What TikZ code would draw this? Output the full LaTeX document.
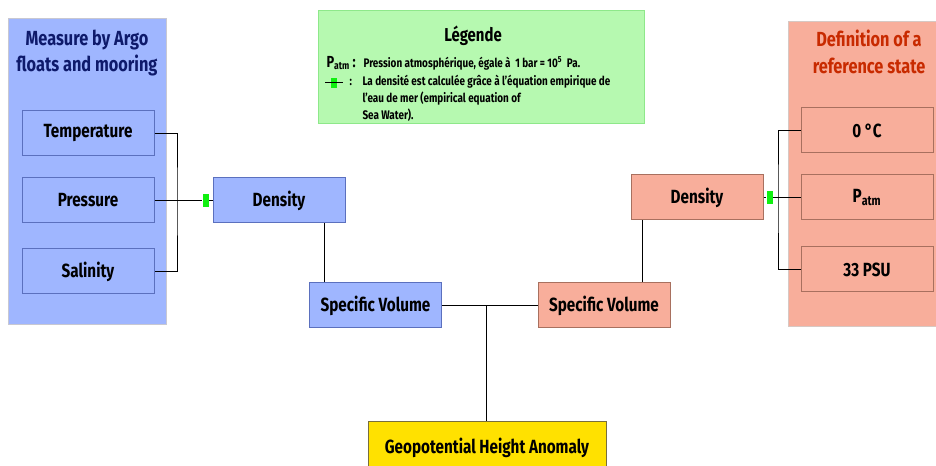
\documentclass[tikz,border=0pt]{standalone}
\usepackage{fontspec}
\setmainfont{Fira Sans}[FakeStretch=0.8]
\usetikzlibrary{positioning}

\definecolor{argoblue}{HTML}{9FB6FF}
\definecolor{argoedge}{HTML}{5B70BE}
\definecolor{argotitle}{HTML}{0E1A6B}
\definecolor{refsalmon}{HTML}{F8AE9B}
\definecolor{refedge}{HTML}{A8705F}
\definecolor{reftitle}{HTML}{C82A00}
\definecolor{legendgreen}{HTML}{B6F9B0}
\definecolor{legendedge}{HTML}{8EE88A}
\definecolor{markgreen}{HTML}{10F010}
\definecolor{geoyellow}{HTML}{FFE100}

\tikzset{every picture/.style={line width=0.75pt}}
\tikzset{
  varbox/.style={draw, rectangle, minimum width=99pt, minimum height=33.75pt, inner sep=0.75pt, font=\bfseries\fontsize{14.3}{16}\selectfont},
  bluebox/.style={varbox, fill=argoblue, draw=argoedge},
  salmonbox/.style={varbox, fill=refsalmon, draw=refedge},
  densmark/.style={draw=none, fill=markgreen, minimum width=4.5pt, minimum height=9.75pt, inner sep=0pt},
  paneltitle/.style={align=center, font=\bfseries\fontsize{15.3}{20}\selectfont},
  legtext/.style={inner sep=0.75pt, font=\bfseries\fontsize{9.3}{12.8}\selectfont},
}

\begin{document}
\begin{tikzpicture}[x=0.75pt,y=0.75pt,yscale=-1,xscale=1]
    \useasboundingbox (0,0) rectangle (936,466); %set diagram to the 936 x 466 frame

    %Shape: Rectangle [left panel]
    \draw [draw={rgb, 255:red, 200; green, 200; blue, 210 }, fill=argoblue] (8,19) rectangle (166,325) ;
    %Shape: Rectangle [right panel]
    \draw [draw={rgb, 255:red, 215; green, 200; blue, 195 }, fill=refsalmon] (788,22) rectangle (950,327) ;
    %Shape: Rectangle [legend]
    \draw [draw=legendedge, fill=legendgreen] (318,11) rectangle (644,124) ;

    % Text Node
    \node [paneltitle, text=argotitle] (argotitle) at (87,53) {Measure by Argo\\floats and mooring};
    % Text Node
    \node [paneltitle, text=reftitle] (reftitle) at (869,52) {Definition of a\\reference state};

    % Measured variables
    \node [bluebox] (temp) at (88,133.5) {Temperature};
    \node [bluebox] (pres) at (88,200.5) {Pressure};
    \node [bluebox] (sal) at (88,271.5) {Salinity};
    \node [bluebox] (bdens) at (279,200.5) {Density};
    \node [bluebox] (svb) at (375.5,305.5) {Specific Volume};

    % Reference state
    \node [salmonbox] (zero) at (867,130.5) {0 °C};
    \node [salmonbox] (patm) at (867,197.5) {P\textsubscript{atm}};
    \node [salmonbox] (psu) at (867,269.5) {33 PSU};
    \node [salmonbox] (rdens) at (697,197.5) {Density};
    \node [salmonbox] (svr) at (604,305.5) {Specific Volume};

    % Result
    \node [varbox, fill=geoyellow, draw={rgb, 255:red, 120; green, 110; blue, 60 }, minimum width=178.5pt, minimum height=39pt] (geo) at (487,448) {Geopotential Height Anomaly};

    % Density markers
    \node [densmark] (lmark) at (205.5,200.5) {};
    \node [densmark] (rmark) at (769.5,197.5) {};

    %Straight Lines [left bracket]
    \coordinate (lbr) at (177,200.5);
    \draw (temp.east) -| (lbr) |- (sal.east) ;
    \draw (pres.east) -- (lmark.west) ;
    \draw (lmark.east) -- (bdens.west) ;
    %Straight Lines [right bracket]
    \coordinate (rbr) at (778,197.5);
    \draw (zero.west) -| (rbr) |- (psu.west) ;
    \draw (rdens.east) -- (rmark.west) ;
    \draw (rmark.east) -- (patm.west) ;
    %Straight Lines [density to specific volume]
    \draw ([xshift=33.75pt]bdens.south) -- ([xshift=33.75pt]bdens.south |- svb.north) ;
    \draw ([xshift=-41.25pt]rdens.south) -- ([xshift=-41.25pt]rdens.south |- svr.north) ;
    %Straight Lines [specific volumes to anomaly]
    \draw (svb.east) -- (svr.west) ;
    \coordinate (jn) at (486,305.5);
    \draw (jn) -- (jn |- geo.north) ;

    % Text Node [legend]
    \node [font=\bfseries\fontsize{14}{15}\selectfont] (legtitle) at (473,36) {Légende};
    \node [anchor=west, inner sep=0.75pt, font=\bfseries\fontsize{12}{13}\selectfont] (legpatm) at (325,63) {P\textsubscript{atm}\,:};
    \node [legtext, anchor=west] (legpatmtxt) at (362,63) {Pression atmosphérique, égale à \ 1 bar = 10\textsuperscript{5} \ Pa.};
    \node [densmark, minimum width=4.5pt, minimum height=8pt] (legmark) at (334,83) {};
    \draw ([xshift=-4pt]legmark.west) -- ([xshift=4pt]legmark.east) ;
    \node [legtext, anchor=west] (legcolon) at (348,82) {:};
    \node [legtext, anchor=north west, align=left] (legmarktxt) at (361,74) {La densité est calculée grâce à l'équation empirique de\\l'eau de mer (empirical equation of\\Sea Water).};

\end{tikzpicture}
\end{document}
